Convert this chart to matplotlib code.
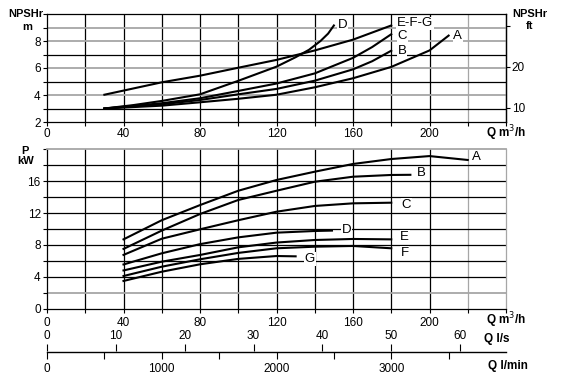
import matplotlib
matplotlib.use("Agg")
import matplotlib.pyplot as plt

plt.rcParams['font.family'] = ['Liberation Sans', 'DejaVu Sans']

# NPSHr curves (Q in m3/h, NPSHr in m)
npsh_efg_q = [30, 60, 80, 100, 120, 140, 160, 180]
npsh_efg_m = [4.02, 4.94, 5.43, 6.02, 6.6, 7.3, 8.1, 9.15]
npsh_d_q = [30, 45, 60, 80, 100, 120, 130, 137, 143, 147, 150]
npsh_d_m = [3.0, 3.25, 3.56, 4.05, 5.05, 6.1, 6.8, 7.35, 8.0, 8.55, 9.15]
npsh_c_q = [30, 60, 80, 100, 120, 140, 160, 170, 180]
npsh_c_m = [3.0, 3.39, 3.76, 4.3, 4.85, 5.6, 6.75, 7.55, 8.5]
npsh_b_q = [30, 60, 80, 100, 120, 140, 160, 170, 180]
npsh_b_m = [3.0, 3.31, 3.63, 4.05, 4.45, 5.06, 5.9, 6.5, 7.28]
npsh_a_q = [30, 60, 80, 100, 120, 140, 160, 180, 200, 210]
npsh_a_m = [3.0, 3.21, 3.46, 3.72, 4.02, 4.57, 5.24, 6.08, 7.3, 8.4]

# Power curves (Q in m3/h, P in kW)
p_a_q = [40, 60, 80, 100, 120, 140, 160, 180, 200, 220]
p_a_kw = [8.7, 11.1, 13.0, 14.8, 16.15, 17.19, 18.16, 18.78, 19.15, 18.66]
p_b_q = [40, 60, 80, 100, 120, 140, 160, 180, 190]
p_b_kw = [7.5, 9.8, 11.88, 13.64, 14.8, 15.93, 16.56, 16.78, 16.8]
p_c_q = [40, 60, 80, 100, 120, 140, 160, 180]
p_c_kw = [6.75, 8.78, 9.96, 11.1, 12.17, 12.89, 13.22, 13.3]
p_d_q = [40, 60, 80, 100, 120, 140, 149]
p_d_kw = [5.55, 6.95, 8.1, 8.95, 9.54, 9.75, 9.8]
p_e_q = [40, 60, 80, 100, 120, 140, 160, 180]
p_e_kw = [4.8, 5.9, 6.74, 7.7, 8.3, 8.62, 8.75, 8.7]
p_f_q = [40, 60, 80, 100, 120, 140, 160, 180]
p_f_kw = [4.1, 5.27, 6.2, 7.0, 7.58, 7.78, 7.87, 7.58]
p_g_q = [40, 60, 80, 100, 120, 130]
p_g_kw = [3.48, 4.64, 5.57, 6.25, 6.61, 6.57]

# curve labels: (text, Q, value)
npsh_labels = [("D", 154.6, 9.19), ("E-F-G", 192.4, 9.3), ("C", 185.8, 8.39),
               ("B", 185.8, 7.28), ("A", 214.7, 8.37)]
p_labels = [("A", 224.7, 19.0), ("B", 195.9, 17.0), ("C", 188, 13.0),
            ("D", 156.6, 9.87), ("E", 187, 9.03), ("F", 187, 7.03), ("G", 137.5, 6.24)]

GRAY = '#a6a6a6'
W, H = 561, 377

fig = plt.figure(figsize=(W / 100, H / 100), dpi=100)

# ---------- NPSHr plot ----------
ax1 = fig.add_axes([47 / W, 1 - 122 / H, 459 / W, 108 / H])
ax1.set_xlim(0, 240)
ax1.set_ylim(2, 10)
for x in range(20, 240, 20):
    ax1.axvline(x, color=GRAY if x == 220 else 'black', lw=0.9, zorder=1)
for y in range(3, 10):
    ax1.axhline(y, color=GRAY if y in (4, 6, 8, 9) else 'black',
                lw=1.3 if y in (4, 6, 8, 9) else 0.9, zorder=1)

for q, m in [(npsh_efg_q, npsh_efg_m), (npsh_d_q, npsh_d_m), (npsh_c_q, npsh_c_m),
             (npsh_b_q, npsh_b_m), (npsh_a_q, npsh_a_m)]:
    ax1.plot(q, m, color='black', lw=1.5, zorder=3, solid_joinstyle='round')
for txt, q, m in npsh_labels:
    ax1.text(q, m, txt, fontsize=9.5, ha='center', va='center', zorder=4,
             bbox=dict(facecolor='white', edgecolor='none', pad=0.5))

ax1.set_xticks(range(0, 241, 20))
ax1.set_xticklabels([str(v) if v % 40 == 0 and v <= 200 else '' for v in range(0, 241, 20)])
ax1.set_yticks(range(2, 11))
ax1.set_yticklabels([str(v) if v % 2 == 0 and v < 10 else '' for v in range(2, 11)])
ax1.tick_params(axis='both', labelsize=8.5, length=3, width=0.8, pad=1.5, color='black')
for s in ax1.spines.values():
    s.set_linewidth(0.9)

sec = ax1.secondary_yaxis('right', functions=(lambda m: m / 0.3048, lambda f: f * 0.3048))
sec.set_yticks([10, 20, 30])
sec.set_yticklabels(['10', '20', ''])
sec.tick_params(labelsize=8.5, length=3, width=0.8, pad=1)
sec.spines['right'].set_linewidth(0.9)

fig.text(26 / W, 1 - 14 / H, "NPSHr", fontsize=8, fontweight='bold', ha='center', va='center')
fig.text(27 / W, 1 - 27 / H, "m", fontsize=8, fontweight='bold', ha='center', va='center')
fig.text(530 / W, 1 - 14 / H, "NPSHr", fontsize=8, fontweight='bold', ha='center', va='center')
fig.text(530 / W, 1 - 26 / H, "ft", fontsize=8, fontweight='bold', ha='center', va='center')
fig.text(486 / W, 1 - 133 / H, "Q m$^3$/h", fontsize=8.5, fontweight='bold', ha='left', va='center')

# ---------- Power plot ----------
ax2 = fig.add_axes([47 / W, 1 - 308.7 / H, 459 / W, 159.4 / H])
ax2.set_xlim(0, 240)
ax2.set_ylim(0, 20)
for x in range(20, 240, 20):
    ax2.axvline(x, color=GRAY if x == 220 else 'black', lw=0.9, zorder=1)
for y in range(2, 20, 2):
    ax2.axhline(y, color=GRAY if y == 2 else 'black', lw=1.3 if y == 2 else 0.9, zorder=1)

for q, p in [(p_a_q, p_a_kw), (p_b_q, p_b_kw), (p_c_q, p_c_kw), (p_d_q, p_d_kw),
             (p_e_q, p_e_kw), (p_f_q, p_f_kw), (p_g_q, p_g_kw)]:
    ax2.plot(q, p, color='black', lw=1.5, zorder=3, solid_joinstyle='round')
for txt, q, p in p_labels:
    ax2.text(q, p, txt, fontsize=9.5, ha='center', va='center', zorder=4,
             bbox=dict(facecolor='white', edgecolor='none', pad=0.5))

ax2.set_xticks(range(0, 241, 20))
ax2.set_xticklabels([str(v) if v % 40 == 0 and v <= 200 else '' for v in range(0, 241, 20)])
ax2.set_yticks(range(0, 21, 2))
ax2.set_yticklabels([str(v) if v % 4 == 0 and v < 20 else '' for v in range(0, 21, 2)])
ax2.tick_params(axis='both', labelsize=8.5, length=3, width=0.8, pad=1.5)
ax2.tick_params(axis='x', pad=3)
for s in ax2.spines.values():
    s.set_linewidth(0.9)
ax2.spines['top'].set_color(GRAY)
ax2.spines['top'].set_linewidth(1.3)
ax2.spines['right'].set_color(GRAY)

fig.text(25 / W, 1 - 151.5 / H, "P", fontsize=8, fontweight='bold', ha='center', va='center')
fig.text(25.5 / W, 1 - 161.5 / H, "kW", fontsize=8, fontweight='bold', ha='center', va='center')
fig.text(486 / W, 1 - 320.5 / H, "Q m$^3$/h", fontsize=8.5, fontweight='bold', ha='left', va='center')

# ---------- l/s and l/min scales ----------
ax3 = fig.add_axes([47 / W, 1 - 351.5 / H, 459 / W, 0.0005])
ax3.set_xlim(0, 240 / 0.06)  # l/min
ax3.set_ylim(0, 1)
ax3.set_yticks([])
for s in ['top', 'left', 'right']:
    ax3.spines[s].set_visible(False)
ax3.spines['bottom'].set_linewidth(1.0)
ax3.set_xticks(range(0, 4000, 500))
ax3.set_xticklabels([str(v) if v % 1000 == 0 else '' for v in range(0, 4000, 500)])
ax3.tick_params(axis='x', labelsize=8.5, length=5, width=0.8, pad=3.5)
ax3.patch.set_visible(False)

ax3t = ax3.twiny()
ax3t.set_xlim(0, 240 / 3.6)  # l/s
for s in ax3t.spines.values():
    s.set_visible(False)
ax3t.set_xticks(range(0, 61, 10))
ax3t.tick_params(axis='x', labelsize=8.5, length=5, width=0.8, pad=2)

fig.text(484 / W, 1 - 338.8 / H, "Q l/s", fontsize=8.5, fontweight='bold', ha='left', va='center')
fig.text(488 / W, 1 - 365.7 / H, "Q l/min", fontsize=8.5, fontweight='bold', ha='left', va='center')

fig.savefig("out.png", dpi=100)
